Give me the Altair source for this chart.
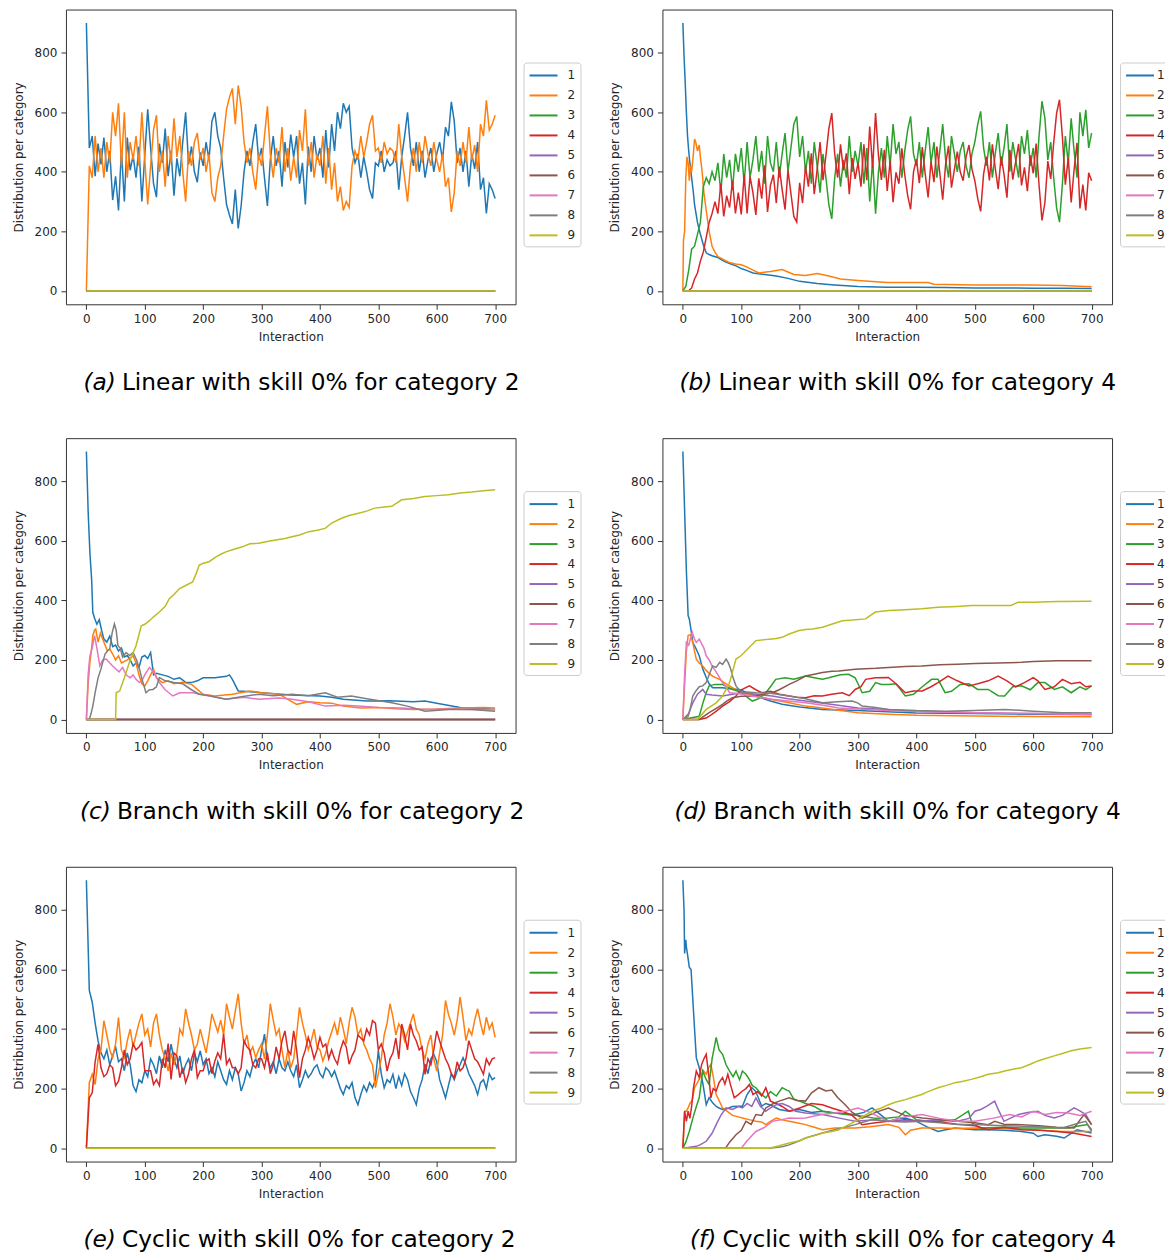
import altair as alt
import pandas as pd

CATS = ["1", "2", "3", "4", "5", "6", "7", "8", "9"]
COLORS = ["#1f77b4", "#ff7f0e", "#2ca02c", "#d62728", "#9467bd",
          "#8c564b", "#e377c2", "#7f7f7f", "#bcbd22"]
X_TICKS = [0, 100, 200, 300, 400, 500, 600, 700]
Y_TICKS = [0, 200, 400, 600, 800]
GRID5 = list(range(0, 701, 5))
ZX = [0, 700]
ZY = [0, 0]

# ---------------- (a) Linear, category 2 ----------------
A1_Y = [900, 480, 520, 385, 495, 425, 515, 400, 470, 305,
        385, 270, 475, 300, 515, 405, 455, 380, 485, 300,
        455, 610, 480, 360, 315, 495, 430, 545, 385, 470,
        320, 445, 385, 500, 600, 425, 485, 400, 365, 465,
        420, 500, 440, 570, 600, 520, 480, 380, 290, 255,
        225, 340, 210, 285, 400, 470, 420, 500, 560, 440,
        480, 380, 285, 440, 520, 420, 470, 350, 500, 415,
        525, 450, 520, 360, 430, 290, 485, 400, 520, 440,
        480, 380, 540, 415, 560, 470, 600, 545, 630, 600,
        620, 480, 430, 460, 380, 450, 400, 340, 310, 430,
        420, 470, 400, 440, 420, 430, 470, 340, 450, 520,
        600, 480, 420, 500, 400, 470, 380, 440, 480, 400,
        460, 500, 440, 550, 520, 635, 570, 430, 480, 400,
        470, 350, 460, 410, 500, 340, 380, 260, 360, 340,
        310]
A2_Y = [0, 420, 380, 520, 400, 480, 380, 500, 430, 600,
        520, 630, 420, 600, 380, 500, 440, 520, 420, 600,
        440, 290, 420, 540, 590, 400, 470, 350, 520, 430,
        580, 450, 520, 400, 300, 470, 420, 500, 530, 440,
        480, 400, 460, 330, 300, 380, 420, 520, 610, 650,
        680, 560, 690, 620, 500, 430, 480, 400, 340, 460,
        420, 520, 620, 460, 380, 480, 430, 550, 400, 480,
        370, 450, 380, 540, 470, 610, 420, 500, 380, 460,
        420, 520, 360, 480, 340, 430, 300, 350, 270, 300,
        280, 420, 470, 440, 520, 450, 500, 560, 590, 470,
        480, 430, 500, 460, 480, 470, 430, 560, 450, 380,
        300, 420, 480, 400, 500, 430, 520, 460, 420, 500,
        440, 400, 460, 350, 380, 265, 330, 470, 420, 500,
        430, 550, 440, 490, 400, 560, 520, 640, 540, 560,
        590]

# ---------------- (b) Linear, category 4 ----------------
B1_X = [0, 2, 4, 6, 8, 10, 12, 15, 18, 20, 25, 30, 35, 40, 45, 50, 60, 70, 80, 90,
        100, 110, 120, 140, 160, 180, 200, 230, 260, 300, 350, 400, 450, 500, 550, 600, 650, 700]
B1_Y = [900, 790, 700, 600, 520, 470, 430, 380, 330, 290, 230, 190, 155, 128, 122, 118, 112, 100, 92, 85,
        75, 68, 60, 55, 50, 42, 32, 25, 20, 15, 12, 12, 11, 10, 10, 9, 9, 8]
B2_X = [0, 1, 3, 5, 7, 9, 11, 13, 15, 18, 20, 22, 25, 28, 30, 33, 36, 40, 45, 50,
        55, 60, 70, 80, 90, 100, 110, 120, 130, 150, 170, 190, 210, 230, 250, 270, 300, 350, 420, 430,
        500, 600, 650, 700]
B2_Y = [0, 170, 200, 380, 450, 430, 370, 420, 400, 460, 510, 500, 470, 490, 450, 400, 330, 270, 200, 150,
        130, 115, 105, 95, 90, 88, 80, 70, 60, 65, 72, 55, 52, 58, 50, 40, 35, 28, 28, 22,
        20, 20, 18, 14]
B3_Y = [0, 15, 70, 140, 150, 190, 230, 350, 380, 360,
        400, 370, 430, 330, 460, 380, 440, 340, 460, 400,
        480, 360, 500, 380, 440, 520, 400, 470, 360, 520,
        430, 400, 500, 380, 460, 530, 400, 480, 560, 586,
        450, 520, 400, 470, 360, 500, 420, 330, 460, 380,
        290, 242, 380, 460, 350, 440, 380, 520, 400, 470,
        420, 500, 360, 480, 300, 440, 259, 400, 480, 380,
        520, 420, 560, 460, 500, 380, 470, 540, 586, 460,
        420, 500, 380, 470, 550, 430, 500, 380, 470, 560,
        440, 380, 520, 460, 400, 470, 500, 420, 380, 460,
        500, 560, 603, 480, 420, 500, 380, 460, 530, 420,
        480, 560, 400, 500, 440, 380, 520, 460, 540, 420,
        480, 380, 520, 637, 580, 440, 500, 380, 280, 231,
        360, 520, 430, 580, 470, 380, 600, 520, 608, 480,
        530]
B4_Y = [0, 0, 0, 10, 40, 60, 100, 130, 180, 230,
        260, 300, 260, 360, 250, 320, 280, 370, 260, 330,
        257, 390, 260, 385, 330, 255, 378, 310, 422, 265,
        355, 390, 295, 418, 340, 273, 405, 328, 250, 231,
        363, 295, 418, 350, 462, 325, 408, 500, 372, 455,
        545, 597, 460, 380, 492, 405, 462, 325, 446, 376,
        430, 350, 492, 372, 552, 412, 597, 453, 373, 474,
        336, 437, 298, 398, 360, 479, 390, 320, 274, 400,
        442, 362, 483, 393, 314, 435, 365, 485, 396, 306,
        426, 487, 347, 408, 468, 400, 370, 450, 490, 410,
        370, 310, 267, 392, 451, 371, 492, 412, 342, 452,
        392, 313, 474, 374, 434, 494, 354, 415, 335, 455,
        395, 495, 355, 237, 296, 436, 376, 496, 596, 642,
        517, 357, 447, 297, 407, 497, 277, 357, 270, 397,
        370]

# ---------------- (c) Branch, category 2 ----------------
C1_X = [0, 3, 6, 9, 11, 14, 18, 22, 26, 30, 35, 40, 45, 50, 55, 60, 65, 70, 75, 80,
        85, 90, 95, 100, 105, 110, 115, 120, 130, 140, 150, 160, 170, 180, 190, 200, 220, 240, 245, 250,
        260, 270, 300, 350, 400, 420, 440, 480, 520, 560, 580, 600, 640, 680, 700]
C1_Y = [900, 700, 560, 470, 360, 340, 320, 335, 300, 270, 260, 280, 245, 250, 230, 240, 210, 215, 200, 180,
        190, 175, 210, 215, 205, 225, 150, 155, 150, 145, 135, 140, 125, 124, 130, 140, 140, 145, 150, 135,
        96, 95, 90, 82, 79, 75, 68, 62, 63, 60, 62, 55, 40, 37, 34]
C2_X = [0, 3, 6, 9, 11, 14, 16, 20, 24, 28, 32, 36, 40, 45, 50, 55, 60, 70, 80, 85,
        90, 95, 100, 105, 110, 115, 120, 130, 140, 150, 165, 180, 200, 220, 250, 280, 300, 330, 360, 380,
        400, 420, 440, 470, 500, 530, 560, 600, 640, 680, 700]
C2_Y = [0, 120, 192, 240, 282, 300, 304, 260, 290, 270, 250, 230, 237, 220, 200, 214, 190, 200, 214, 190,
        150, 120, 113, 130, 150, 169, 140, 124, 130, 120, 125, 118, 85, 79, 85, 96, 90, 85, 51, 60,
        56, 55, 45, 39, 40, 36, 34, 35, 39, 40, 39]
C7_X = [0, 3, 6, 10, 14, 18, 23, 28, 34, 40, 45, 51, 56, 62, 68, 75, 80, 85, 91, 95,
        100, 108, 115, 125, 135, 148, 160, 182, 210, 239, 270, 295, 330, 352, 380, 409, 440, 466, 500, 540,
        580, 620, 660, 700]
C7_Y = [0, 150, 214, 240, 282, 240, 180, 200, 203, 190, 180, 169, 160, 175, 150, 140, 150, 135, 124, 130,
        150, 175, 160, 124, 100, 79, 90, 90, 80, 68, 75, 68, 72, 68, 60, 45, 48, 45, 40, 39,
        34, 35, 34, 34]
C8_X = [0, 5, 8, 11, 15, 20, 25, 28, 32, 36, 40, 44, 48, 51, 54, 58, 62, 68, 74, 80,
        86, 91, 96, 102, 108, 114, 120, 125, 135, 150, 165, 180, 193, 210, 239, 260, 295, 320, 352, 380,
        409, 430, 454, 480, 523, 550, 580, 620, 660, 700]
C8_Y = [0, 0, 20, 45, 90, 140, 170, 192, 220, 230, 237, 290, 321, 300, 248, 240, 210, 225, 215, 225,
        200, 169, 130, 90, 100, 101, 110, 141, 130, 124, 120, 100, 85, 80, 68, 75, 85, 80, 85, 80,
        90, 75, 79, 70, 56, 45, 28, 34, 34, 28]
C9_X = [0, 50, 51, 57, 65, 75, 85, 94, 100, 108, 115, 125, 135, 142, 150, 159, 170, 182, 188, 193,
        200, 210, 222, 230, 239, 250, 267, 280, 295, 310, 324, 340, 352, 365, 381, 395, 409, 420, 437, 450,
        466, 480, 494, 510, 523, 540, 560, 580, 600, 620, 640, 660, 680, 700]
C9_Y = [0, 0, 90, 96, 140, 200, 248, 315, 320, 332, 345, 361, 380, 406, 420, 439, 450, 462, 490, 518,
        525, 530, 546, 555, 563, 570, 580, 590, 592, 598, 603, 608, 614, 620, 631, 636, 642, 660, 676, 685,
        693, 700, 710, 714, 716, 738, 742, 749, 752, 755, 761, 764, 768, 772]

# ---------------- (d) Branch, category 4 ----------------
D1_X = [0, 3, 6, 9, 11, 14, 17, 22, 28, 34, 40, 45, 51, 60, 68, 80, 97, 110, 125, 150,
        170, 200, 239, 300, 350, 400, 500, 600, 700]
D1_Y = [900, 700, 500, 349, 338, 300, 259, 240, 214, 170, 141, 120, 107, 107, 107, 103, 101, 90, 79, 62,
        51, 42, 34, 30, 26, 22, 20, 18, 17]
D2_X = [0, 3, 6, 9, 13, 17, 20, 23, 28, 34, 40, 45, 51, 57, 63, 70, 80, 90, 100, 125,
        150, 182, 210, 239, 270, 300, 350, 400, 500, 600, 700]
D2_Y = [0, 120, 230, 282, 285, 259, 230, 203, 190, 180, 165, 155, 146, 140, 135, 125, 113, 100, 90, 79,
        68, 56, 45, 39, 30, 23, 18, 14, 12, 10, 9]
D3_X = [0, 28, 35, 40, 45, 55, 68, 75, 85, 95, 102, 110, 119, 130, 142, 150, 159, 175, 190, 210,
        225, 239, 250, 261, 270, 284, 295, 300, 307, 320, 330, 340, 352, 365, 381, 395, 410, 426, 437, 449,
        460, 475, 490, 505, 523, 540, 551, 565, 580, 595, 608, 620, 636, 650, 665, 680, 690, 700]
D3_Y = [0, 11, 60, 90, 113, 118, 118, 110, 101, 95, 90, 75, 62, 70, 90, 110, 135, 140, 135, 146,
        140, 135, 140, 146, 150, 152, 140, 120, 90, 95, 124, 118, 118, 120, 79, 85, 110, 135, 135, 90,
        95, 118, 120, 101, 101, 80, 79, 110, 113, 100, 124, 124, 101, 110, 90, 110, 100, 113]
D4_X = [0, 28, 40, 45, 55, 68, 80, 91, 100, 114, 125, 135, 150, 165, 182, 195, 210, 225, 239, 255,
        273, 285, 295, 305, 313, 330, 352, 365, 381, 395, 410, 425, 437, 454, 470, 490, 505, 523, 540, 555,
        570, 585, 600, 608, 620, 636, 650, 665, 680, 690, 700]
D4_Y = [0, 0, 5, 11, 25, 45, 60, 79, 100, 113, 100, 90, 95, 85, 79, 75, 73, 80, 79, 85,
        90, 80, 101, 110, 135, 140, 141, 120, 90, 96, 96, 110, 124, 146, 130, 113, 120, 130, 146, 130,
        110, 124, 141, 130, 101, 110, 135, 120, 125, 110, 113]
D5_X = [0, 10, 17, 25, 34, 40, 50, 68, 85, 102, 125, 153, 180, 210, 250, 300, 350, 400, 450, 500,
        550, 600, 650, 700]
D5_Y = [0, 20, 56, 85, 101, 85, 82, 79, 85, 90, 85, 79, 70, 62, 52, 39, 34, 28, 26, 23,
        21, 20, 18, 17]
D6_X = [0, 28, 35, 45, 55, 68, 75, 85, 100, 125, 140, 153, 165, 182, 195, 210, 225, 239, 255, 267,
        295, 330, 352, 380, 409, 440, 470, 500, 540, 580, 600, 640, 700]
D6_Y = [0, 0, 10, 23, 35, 51, 62, 73, 78, 79, 85, 90, 100, 118, 130, 146, 152, 158, 162, 163,
        169, 172, 175, 178, 180, 184, 186, 188, 190, 192, 195, 197, 197]
D7_X = [0, 3, 6, 10, 16, 20, 23, 28, 32, 36, 40, 45, 50, 54, 60, 68, 74, 80, 90, 102,
        120, 153, 180, 210, 240, 267, 300, 350, 400, 500, 600, 700]
D7_Y = [0, 150, 259, 250, 293, 270, 259, 270, 255, 240, 214, 200, 180, 169, 150, 124, 110, 90, 88, 85,
        78, 68, 62, 56, 48, 39, 35, 30, 27, 23, 20, 17]
D8_X = [0, 9, 13, 17, 22, 28, 34, 40, 45, 51, 57, 63, 68, 74, 78, 82, 86, 91, 96, 102,
        110, 125, 150, 182, 210, 239, 265, 290, 300, 307, 330, 352, 400, 450, 500, 551, 600, 650, 700]
D8_Y = [0, 11, 40, 79, 95, 110, 113, 124, 150, 180, 175, 192, 185, 203, 190, 169, 140, 113, 100, 90,
        92, 90, 88, 79, 70, 56, 60, 62, 55, 45, 40, 34, 30, 28, 30, 34, 28, 23, 23]
D9_X = [0, 25, 40, 57, 68, 80, 91, 100, 108, 125, 148, 160, 170, 182, 199, 210, 222, 239, 256, 273,
        290, 313, 320, 330, 352, 380, 409, 437, 470, 494, 530, 562, 574, 600, 640, 700]
D9_Y = [0, 0, 34, 56, 79, 124, 203, 215, 231, 265, 270, 272, 276, 287, 299, 302, 304, 310, 321, 332,
        334, 338, 348, 361, 366, 369, 372, 377, 380, 383, 383, 383, 394, 394, 396, 397]

# ---------------- (e) Cyclic, category 2 ----------------
E1_Y = [900, 530, 490, 420, 360, 320, 300, 330, 280, 310,
        340, 290, 300, 260, 320, 280, 210, 190, 230, 220,
        260, 240, 300, 280, 250, 310, 270, 330, 290, 349,
        300, 270, 310, 250, 280, 300, 260, 320, 290, 327,
        280, 300, 250, 270, 240, 290, 260, 230, 214, 260,
        230, 270, 250, 192, 220, 260, 240, 280, 300, 270,
        330, 383, 300, 270, 290, 250, 300, 270, 260, 290,
        260, 240, 280, 203, 230, 260, 237, 250, 270, 280,
        250, 237, 270, 260, 240, 259, 230, 200, 180, 210,
        200, 220, 170, 146, 180, 210, 190, 220, 203, 230,
        327, 250, 203, 230, 220, 248, 200, 240, 210, 250,
        230, 190, 170, 146, 200, 230, 282, 250, 300, 315,
        290, 230, 200, 169, 210, 250, 230, 260, 280, 304,
        280, 250, 230, 210, 180, 220, 230, 200, 250, 230,
        237]
E2_Y = [0, 220, 248, 214, 300, 330, 428, 380, 330, 304,
        350, 439, 330, 304, 360, 400, 340, 380, 420, 451,
        380, 400, 340, 420, 451, 380, 330, 300, 259, 320,
        280, 320, 400, 380, 468, 420, 380, 330, 349, 400,
        360, 320, 380, 451, 420, 390, 430, 380, 485, 440,
        400, 460, 518, 420, 349, 380, 320, 340, 304, 330,
        350, 300, 380, 485, 430, 380, 400, 330, 270, 330,
        270, 300, 380, 473, 420, 380, 330, 360, 400, 340,
        330, 293, 320, 360, 390, 420, 380, 440, 400, 350,
        420, 473, 440, 380, 400, 350, 330, 300, 280, 203,
        250, 300, 380, 420, 485, 440, 380, 417, 400, 360,
        390, 420, 451, 400, 380, 330, 300, 350, 380, 300,
        259, 320, 380, 496, 450, 420, 380, 430, 507, 440,
        361, 400, 380, 430, 468, 420, 380, 440, 400, 420,
        372]
E4_Y = [0, 169, 186, 290, 349, 270, 240, 250, 280, 270,
        210, 225, 270, 330, 280, 300, 350, 330, 340, 355,
        260, 260, 260, 214, 230, 210, 300, 270, 351, 231,
        320, 310, 237, 270, 220, 250, 300, 330, 237, 260,
        260, 293, 300, 250, 293, 320, 300, 383, 282, 300,
        270, 270, 250, 270, 361, 340, 330, 280, 270, 300,
        300, 270, 320, 250, 280, 340, 300, 360, 394, 330,
        315, 394, 330, 237, 300, 330, 372, 340, 300, 330,
        372, 340, 350, 300, 330, 300, 282, 330, 360, 340,
        282, 310, 330, 380, 370, 360, 400, 380, 428, 420,
        330, 350, 320, 259, 300, 320, 370, 300, 417, 380,
        330, 417, 380, 360, 330, 340, 248, 300, 280, 330,
        394, 360, 330, 300, 280, 250, 237, 290, 260, 270,
        300, 361, 330, 300, 290, 270, 248, 300, 280, 300,
        304]

# ---------------- (f) Cyclic, category 4 ----------------
F1_X = [0, 2, 3, 5, 6, 8, 11, 14, 17, 20, 23, 28, 34, 40, 45, 51, 57, 62, 68, 75,
        85, 95, 102, 110, 118, 125, 135, 142, 150, 165, 182, 200, 220, 239, 260, 295, 310, 324, 340, 352,
        370, 381, 400, 420, 437, 450, 466, 480, 500, 523, 550, 580, 600, 608, 620, 640, 653, 665, 675, 690,
        700]
F1_Y = [900, 800, 654, 700, 676, 650, 608, 600, 501, 400, 304, 270, 220, 146, 170, 152, 140, 135, 130, 132,
        140, 141, 141, 180, 203, 190, 141, 150, 145, 130, 124, 130, 120, 124, 118, 113, 120, 135, 110, 90,
        100, 101, 90, 70, 56, 62, 68, 65, 62, 62, 60, 56, 50, 39, 45, 40, 34, 50, 62, 55,
        51]
F2_X = [0, 3, 6, 9, 12, 16, 20, 25, 30, 35, 40, 44, 48, 52, 57, 62, 68, 75, 85, 95,
        102, 115, 125, 135, 142, 150, 160, 170, 182, 195, 210, 225, 239, 260, 295, 320, 352, 370, 381, 390,
        409, 440, 466, 500, 550, 600, 650, 700]
F2_Y = [0, 124, 124, 135, 150, 160, 203, 220, 240, 260, 248, 270, 282, 240, 180, 160, 135, 125, 110, 105,
        101, 95, 90, 88, 79, 90, 101, 95, 90, 85, 79, 70, 62, 68, 68, 72, 79, 70, 45, 60,
        68, 68, 66, 68, 65, 62, 56, 56]
F3_X = [0, 5, 11, 17, 23, 28, 34, 40, 45, 50, 54, 57, 62, 68, 74, 80, 86, 91, 97, 102,
        108, 114, 119, 125, 135, 142, 150, 160, 170, 178, 182, 190, 200, 210, 225, 239, 260, 280, 300, 330,
        352, 370, 381, 400, 420, 440, 466, 489, 495, 510, 550, 580, 620, 660, 680, 693, 700]
F3_Y = [0, 20, 56, 100, 140, 169, 259, 230, 214, 300, 340, 372, 330, 315, 280, 259, 240, 259, 230, 259,
        248, 230, 210, 203, 180, 169, 190, 175, 203, 195, 192, 165, 158, 150, 140, 124, 118, 113, 110, 100,
        101, 105, 124, 95, 90, 90, 95, 124, 85, 68, 70, 68, 68, 68, 75, 79, 62]
F4_X = [0, 3, 6, 9, 12, 15, 18, 23, 28, 32, 36, 40, 44, 48, 52, 57, 62, 68, 72, 77,
        82, 88, 95, 102, 108, 114, 120, 128, 135, 142, 150, 160, 170, 182, 200, 220, 239, 255, 273, 290,
        307, 330, 352, 380, 410, 440, 470, 500, 523, 550, 580, 610, 640, 670, 700]
F4_Y = [0, 124, 90, 124, 100, 140, 200, 259, 237, 280, 300, 315, 250, 169, 200, 192, 220, 237, 215, 248,
        210, 169, 180, 192, 200, 214, 180, 190, 175, 203, 158, 150, 140, 124, 135, 150, 146, 135, 124, 110,
        79, 85, 90, 95, 90, 88, 80, 75, 62, 70, 62, 60, 56, 50, 39]
F5_X = [0, 23, 30, 40, 50, 57, 65, 74, 85, 95, 102, 110, 118, 125, 133, 142, 150, 160, 170, 182,
        193, 210, 239, 270, 295, 330, 352, 381, 409, 440, 470, 490, 500, 510, 520, 534, 540, 550, 560, 575,
        590, 608, 620, 636, 650, 670, 680, 690, 700]
F5_Y = [0, 6, 12, 23, 50, 79, 110, 135, 130, 140, 135, 150, 140, 169, 140, 124, 135, 146, 150, 140,
        124, 118, 113, 100, 90, 95, 90, 92, 90, 95, 90, 100, 124, 130, 140, 158, 130, 90, 100, 113,
        120, 124, 110, 101, 110, 135, 125, 113, 79]
F6_X = [0, 73, 80, 91, 100, 108, 117, 125, 135, 142, 155, 165, 182, 195, 210, 220, 233, 245, 255, 265,
        278, 290, 307, 330, 352, 380, 410, 440, 470, 500, 523, 534, 550, 580, 610, 640, 670, 687, 700]
F6_Y = [0, 0, 20, 45, 60, 90, 80, 113, 110, 135, 150, 158, 169, 160, 158, 185, 203, 192, 195, 170,
        146, 120, 101, 120, 135, 110, 101, 95, 90, 85, 79, 90, 80, 79, 75, 70, 68, 113, 79]
F7_X = [0, 100, 110, 125, 140, 153, 168, 182, 195, 210, 225, 239, 260, 280, 300, 320, 352, 380, 409, 440,
        470, 500, 530, 560, 580, 600, 620, 640, 660, 680, 700]
F7_Y = [0, 0, 25, 56, 70, 90, 95, 101, 100, 101, 108, 113, 118, 125, 135, 120, 90, 105, 113, 100,
        90, 90, 100, 113, 105, 124, 113, 120, 118, 110, 124]
F8_X = [0, 148, 170, 182, 200, 210, 239, 260, 295, 324, 352, 380, 409, 440, 470, 500, 550, 600, 650, 680,
        690, 700]
F8_Y = [0, 0, 5, 11, 25, 34, 51, 62, 79, 96, 90, 88, 90, 85, 79, 79, 75, 73, 68, 85,
        90, 56]
F9_X = [0, 148, 165, 182, 200, 210, 225, 239, 255, 267, 280, 295, 310, 324, 340, 352, 365, 381, 395, 409,
        420, 437, 450, 466, 480, 494, 510, 523, 540, 551, 565, 580, 595, 608, 620, 636, 650, 665, 680, 700]
F9_Y = [0, 0, 8, 17, 25, 34, 42, 51, 56, 62, 75, 90, 108, 124, 135, 146, 155, 163, 172, 180,
        190, 203, 210, 220, 225, 231, 240, 248, 253, 259, 265, 270, 282, 293, 300, 310, 318, 327, 333, 338]

PANELS = [
    ("(a)", "Linear with skill 0% for category 2", 50, 23,
     [(GRID5, A1_Y), (GRID5, A2_Y)] + [(ZX, ZY)] * 7),
    ("(b)", "Linear with skill 0% for category 4", 50, 16,
     [(B1_X, B1_Y), (B2_X, B2_Y), (GRID5, B3_Y), (GRID5, B4_Y)] + [(ZX, ZY)] * 5),
    ("(c)", "Branch with skill 0% for category 2", 45, 23,
     [(C1_X, C1_Y), (C2_X, C2_Y), (ZX, ZY), (ZX, ZY), (ZX, ZY), (ZX, ZY),
      (C7_X, C7_Y), (C8_X, C8_Y), (C9_X, C9_Y)]),
    ("(d)", "Branch with skill 0% for category 4", 45, 16,
     [(D1_X, D1_Y), (D2_X, D2_Y), (D3_X, D3_Y), (D4_X, D4_Y), (D5_X, D5_Y),
      (D6_X, D6_Y), (D7_X, D7_Y), (D8_X, D8_Y), (D9_X, D9_Y)]),
    ("(e)", "Cyclic with skill 0% for category 2", 50, 23,
     [(GRID5, E1_Y), (GRID5, E2_Y), (ZX, ZY), (GRID5, E4_Y)] + [(ZX, ZY)] * 5),
    ("(f)", "Cyclic with skill 0% for category 4", 54, 16,
     [(F1_X, F1_Y), (F2_X, F2_Y), (F3_X, F3_Y), (F4_X, F4_Y), (F5_X, F5_Y),
      (F6_X, F6_Y), (F7_X, F7_Y), (F8_X, F8_Y), (F9_X, F9_Y)]),
]

FONT = "DejaVu Sans"
TXT = "#262626"


def make_panel(tag, rest, split, label_offset, series):
    rows = []
    for cat, (xs, ys) in zip(CATS, series):
        for x, y in zip(xs, ys):
            rows.append({"interaction": x, "value": y, "category": cat})
    df = pd.DataFrame(rows)
    lines = alt.Chart(df).mark_line(strokeWidth=1.5).encode(
        x=alt.X("interaction:Q",
                scale=alt.Scale(domain=[-35, 735], nice=False, zero=False),
                axis=alt.Axis(values=X_TICKS, title="Interaction", format="d")),
        y=alt.Y("value:Q",
                scale=alt.Scale(domain=[-45, 945], nice=False, zero=False),
                axis=alt.Axis(values=Y_TICKS, title="Distribution per category", format="d")),
        color=alt.Color("category:N",
                        scale=alt.Scale(domain=CATS, range=COLORS),
                        legend=alt.Legend(title=None, orient="none", legendX=458, legendY=53,
                                          symbolType="M-1,0H3", symbolSize=196,
                                          symbolStrokeWidth=2, labelOffset=label_offset,
                                          rowPadding=6, padding=5,
                                          fillColor="white", strokeColor="#cccccc",
                                          cornerRadius=3, labelFontSize=12,
                                          labelFont=FONT, labelColor=TXT)),
        detail="category:N",
    )
    cap = pd.DataFrame({"tag": [tag], "rest": [rest]})
    tag_mark = alt.Chart(cap).mark_text(
        align="right", baseline="alphabetic", font=FONT, fontSize=23.3,
        fontStyle="italic", color="black").encode(
        x=alt.value(split), y=alt.value(381), text="tag:N")
    rest_mark = alt.Chart(cap).mark_text(
        align="left", baseline="alphabetic", font=FONT, fontSize=23.3,
        color="black").encode(
        x=alt.value(split + 6), y=alt.value(381), text="rest:N")
    return alt.layer(lines, tag_mark, rest_mark).properties(width=450, height=295)


charts = [make_panel(*p) for p in PANELS]
rows = [
    alt.hconcat(charts[i], charts[i + 1], spacing=26)
    .resolve_scale(color="independent").resolve_legend(color="independent")
    for i in (0, 2, 4)
]
chart = alt.vconcat(*rows, spacing=42).resolve_scale(
    color="independent"
).resolve_legend(
    color="independent"
).properties(
    padding={"left": 3, "top": 0, "right": -6, "bottom": 0}
).configure_view(
    stroke="#333333", strokeWidth=1
).configure_axis(
    domain=False, grid=False, labelFont=FONT, labelFontSize=12, labelColor=TXT,
    titleFont=FONT, titleFontSize=12, titleFontWeight="normal", titleColor=TXT,
    tickColor="#333333", tickSize=5, labelPadding=4
).configure_axisY(
    titlePadding=9
).configure_axisX(
    titlePadding=7
)

chart.save("out.html", embed_options={"renderer": "svg", "actions": False})
